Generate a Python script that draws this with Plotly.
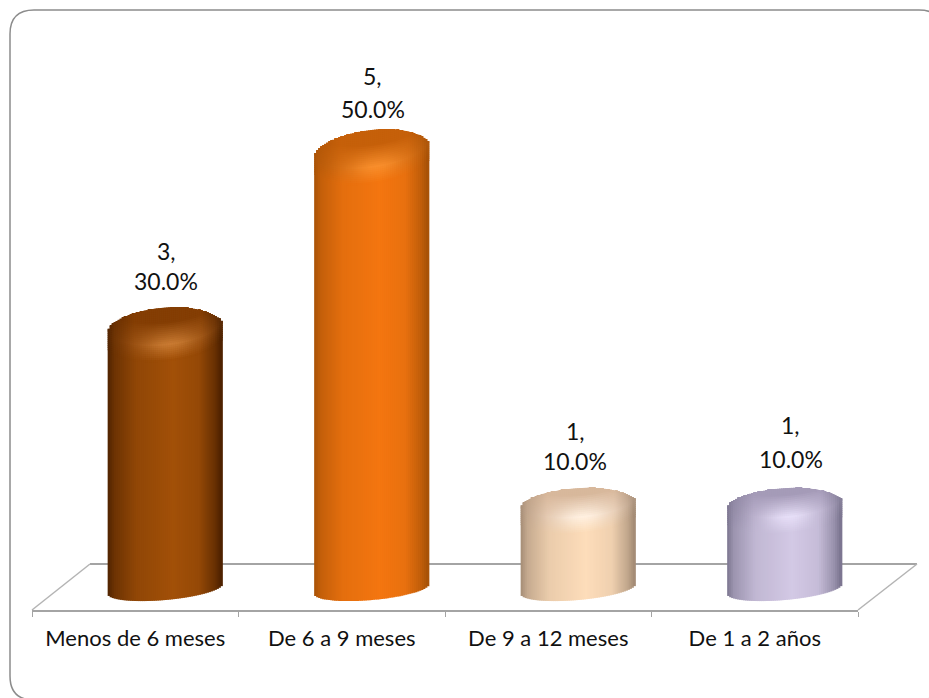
import numpy as np
import plotly.graph_objects as go

categories = ["Menos de 6 meses", "De 6 a 9 meses", "De 9 a 12 meses", "De 1 a 2 años"]
counts = [3, 5, 1, 1]
percents = [30.0, 50.0, 10.0, 10.0]

W, H = 929, 698
PL, PR, PT, PB = 32, 858, 20, 610   # plot area in px
ZERO_PX, PX_PER_UNIT = 589.0, 87.8
PX_PER_CAT = (PR - PL) / 4
BAR_OFFSET = 30 / PX_PER_CAT
BAR_HALF_PX = 57
COL_PX = 2
ROW_PX = 2

STYLE = [
    dict(edge=(74, 32, 0), center=(162, 80, 8), cap=(132, 62, 4), hi=(200, 122, 50), h=20, tilt=5, shift=2),
    dict(edge=(164, 80, 6), center=(244, 118, 16), cap=(198, 96, 10), hi=(248, 142, 44), h=20, tilt=7, shift=0),
    dict(edge=(160, 136, 114), center=(253, 221, 186), cap=(216, 184, 156), hi=(255, 240, 224), h=16, tilt=4, shift=3),
    dict(edge=(120, 114, 140), center=(211, 201, 229), cap=(165, 155, 184), hi=(230, 222, 247), h=16, tilt=4, shift=3),
]
LABEL_NUDGE = [1, 1, -3, 6]   # label x shift, px, from bar centre
LABEL_RISE = [(75, 45), (74, 41), (70, 40), (76, 42)]  # px above bar cap centre

def lerp(a, b, t):
    return tuple(a[i] + (b[i] - a[i]) * t for i in range(3))

def rgb(c):
    return "rgb(%d,%d,%d)" % tuple(int(round(max(0, min(255, x)))) for x in c)

def body_t(u):
    return float(np.interp(u, [-1, -0.88, -0.5, 0.15, 0.6, 0.88, 1],
                              [0.05, 0.4, 0.8, 1.0, 0.85, 0.35, 0.0]))

def to_val(px):
    return px / PX_PER_UNIT

fig = go.Figure()

for i, (cat, v, st) in enumerate(zip(categories, counts, STYLE)):
    cx = i + 0.5 + BAR_OFFSET
    xs, bases, heights, cols = [], [], [], []
    for c_px in np.arange(-BAR_HALF_PX + COL_PX / 2, BAR_HALF_PX, COL_PX):
        u = c_px / BAR_HALF_PX
        root = np.sqrt(max(0.0, 1 - u * u))
        x = cx + c_px / PX_PER_CAT
        body = lerp(st["edge"], st["center"], body_t(u))
        cap_c = v - to_val(st["shift"]) + to_val(st["tilt"]) * u
        top = cap_c + to_val(st["h"]) * (root ** 1.4 if u > 0 else root)
        front = cap_c - to_val(st["h"]) * root
        bottom = to_val(5 * u - 11 * root)
        blend_end = front - to_val(14)
        # plain body
        xs.append(x); bases.append(bottom); heights.append(blend_end + to_val(1) - bottom); cols.append(rgb(body))
        y = blend_end
        step = to_val(ROW_PX)
        strength = np.exp(-(((u - 0.1) / 0.6) ** 2))
        rim = lerp(st["edge"], st["cap"], min(1.0, body_t(u) * 1.3))
        hi = lerp(rim, st["hi"], strength)
        while y < top:
            y2 = min(y + step, top)
            d = ((y + y2) / 2 - front) * PX_PER_UNIT   # + is above front arc
            if d < 3:
                col = lerp(hi, body, min(1.0, (3 - d) / 16))
            elif d < 25:
                col = lerp(hi, rim, (d - 3) / 22)
            else:
                col = rim
            top_row = min(y2 + to_val(1.5), top)
            xs.append(x); bases.append(y); heights.append(top_row - y); cols.append(rgb(col))
            y = y2
    fig.add_trace(go.Bar(x=xs, y=heights, base=bases, width=(COL_PX + 1.2) / PX_PER_CAT,
                         marker=dict(color=cols, line=dict(width=0), opacity=1), name=cat,
                         showlegend=False, hoverinfo="skip"))

LABEL_FONT = dict(family="Lato", size=23, color="#111111")
for i, (c, p) in enumerate(zip(counts, percents)):
    cx = i + 0.5 + BAR_OFFSET
    rise1, rise2 = LABEL_RISE[i]
    fig.add_annotation(x=cx, y=c, text=f"{c},", showarrow=False, font=LABEL_FONT,
                       xshift=LABEL_NUDGE[i], yshift=rise1, xanchor="center", yanchor="middle")
    fig.add_annotation(x=cx, y=c, text=f"{p:.1f}%", showarrow=False, font=LABEL_FONT,
                       xshift=LABEL_NUDGE[i], yshift=rise2, xanchor="center", yanchor="middle")

def px(x):
    return (x - PL) / (PR - PL)

def py(y):
    return (PB - y) / (PB - PT)

FLOOR = "#a4a4a4"
shapes = [
    dict(type="line", xref="paper", yref="paper", x0=px(90), y0=py(564), x1=px(917), y1=py(564),
         line=dict(color=FLOOR, width=2), layer="below"),
    dict(type="line", xref="paper", yref="paper", x0=px(32), y0=py(610), x1=px(90), y1=py(564),
         line=dict(color="#b4b4b4", width=1.5), layer="below"),
    dict(type="line", xref="paper", yref="paper", x0=px(858), y0=py(610), x1=px(917), y1=py(564),
         line=dict(color="#b4b4b4", width=1.5), layer="below"),
]
# rounded frame (right edge falls outside the picture)
L, T, R, B, r = 10, 10, 943, 700, 24
path = (f"M {px(L+r)} {py(T)} L {px(R-r)} {py(T)} Q {px(R)} {py(T)} {px(R)} {py(T+r)} "
        f"L {px(R)} {py(B-r)} Q {px(R)} {py(B)} {px(R-r)} {py(B)} L {px(L+r)} {py(B)} "
        f"Q {px(L)} {py(B)} {px(L)} {py(B-r)} L {px(L)} {py(T+r)} Q {px(L)} {py(T)} {px(L+r)} {py(T)} Z")
shapes.append(dict(type="path", xref="paper", yref="paper", path=path,
                   line=dict(color="#8c8c8c", width=1.5), layer="below"))

fig.update_layout(
    width=W, height=H, autosize=False,
    margin=dict(l=PL, r=W - PR, t=PT, b=H - PB, pad=0),
    paper_bgcolor="white", plot_bgcolor="rgba(0,0,0,0)",
    barmode="overlay", showlegend=False, shapes=shapes,
    xaxis=dict(range=[0, 4], tickmode="array", tickvals=[i + 0.5 for i in range(4)],
               ticktext=categories, ticks="", showgrid=False, zeroline=False,
               showline=True, linecolor=FLOOR, linewidth=2, fixedrange=True,
               tickfont=dict(family="Lato", size=22, color="#111111"),
               ticklabelstandoff=8,
               minor=dict(tickmode="array", tickvals=[0, 1, 2, 3, 4], ticks="outside",
                          ticklen=5, tickwidth=1, tickcolor=FLOOR, showgrid=False)),
    yaxis=dict(range=[(ZERO_PX - PB) / PX_PER_UNIT, (ZERO_PX - PT) / PX_PER_UNIT],
               visible=False, fixedrange=True),
)
fig.write_html("out.html", config=dict(displayModeBar=False),
               post_script="document.body.style.margin='0';document.documentElement.style.overflow='hidden';")
